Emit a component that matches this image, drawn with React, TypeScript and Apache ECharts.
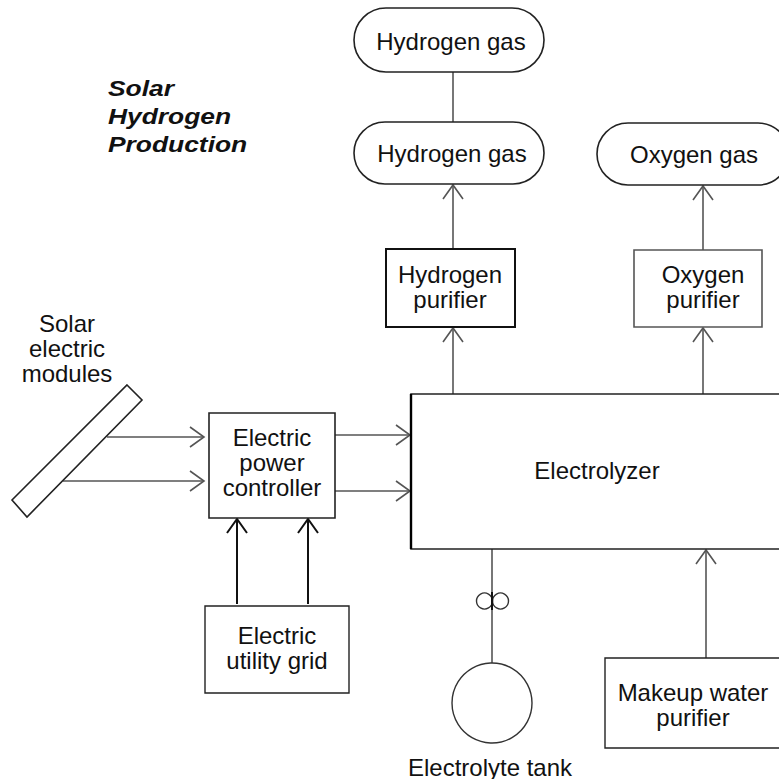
import React, { useEffect, useRef } from "react";
import * as echarts from "echarts";

const titleLines = ["Solar", "Hydrogen", "Production"];
const gasLabels = ["Hydrogen gas", "Hydrogen gas", "Oxygen gas"];
const purifierLabels = ["Hydrogen\npurifier", "Oxygen\npurifier"];
const sourceLabels = ["Solar\nelectric\nmodules", "Electric\npower\ncontroller", "Electric\nutility grid"];
const processLabels = ["Electrolyzer", "Electrolyte tank", "Makeup water\npurifier"];

const FONT = "'Liberation Sans', Arial, Helvetica, sans-serif";
const LINE = "#555";
const BOX = "#222";

function txt(text: string, x: number, y: number, size = 24, extra: any = {}, el: any = {}) {
  return {
    type: "text",
    x,
    y,
    z: 10,
    ...el,
    style: {
      text,
      fontFamily: FONT,
      fontSize: size,
      lineHeight: 25,
      fill: "#111",
      align: "center",
      verticalAlign: "middle",
      textAlign: "center",
      textVerticalAlign: "middle",
      ...extra,
    },
  };
}

function box(x: number, y: number, w: number, h: number, r: number = 0, stroke = BOX, lw = 1.6) {
  return {
    type: "rect",
    shape: { x, y, width: w, height: h, r },
    style: { fill: "#fff", stroke, lineWidth: lw },
  };
}

function seg(x1: number, y1: number, x2: number, y2: number, stroke = LINE, lw = 1.6) {
  return { type: "line", shape: { x1, y1, x2, y2 }, style: { stroke, lineWidth: lw } };
}

function arrow(x1: number, y1: number, x2: number, y2: number, stroke = LINE, lw = 1.6) {
  const dx = x2 - x1;
  const dy = y2 - y1;
  const len = Math.sqrt(dx * dx + dy * dy);
  const ux = dx / len;
  const uy = dy / len;
  const back = 14;
  const side = 10;
  const p1 = [x2 - ux * back - uy * side, y2 - uy * back + ux * side];
  const p2 = [x2 - ux * back + uy * side, y2 - uy * back - ux * side];
  return [
    seg(x1, y1, x2, y2, stroke, lw),
    { type: "polyline", shape: { points: [p1, [x2, y2], p2] }, style: { stroke, lineWidth: lw, fill: null } },
  ];
}

export default function App() {
  const ref = useRef<HTMLDivElement>(null);
  useEffect(() => {
    if (!ref.current) return;
    const chart = echarts.init(ref.current, null, { renderer: "svg" });
    const elements: any[] = [];

    // connectors
    elements.push(seg(453, 72, 453, 122));
    elements.push(...arrow(453, 249, 453, 185));
    elements.push(...arrow(453, 394, 453, 328));
    elements.push(...arrow(703, 250, 703, 186));
    elements.push(...arrow(703, 394, 703, 328));
    elements.push(...arrow(107, 437, 204, 437));
    elements.push(...arrow(63, 481, 204, 481));
    elements.push(...arrow(335, 435, 410, 435));
    elements.push(...arrow(335, 491, 410, 491));
    elements.push(...arrow(237, 604, 237, 519, "#111", 2));
    elements.push(...arrow(308, 604, 308, 519, "#111", 2));
    elements.push(...arrow(706, 658, 706, 550));
    elements.push(seg(492, 549, 492, 663));

    // gases
    elements.push(box(354, 8, 190, 64, 32));
    elements.push(box(354, 122, 190, 62, 31));
    elements.push(box(597, 123, 192, 62, 31));

    // purifiers
    elements.push(box(386, 249, 129, 78, 0, "#111", 2));
    elements.push(box(634, 250, 128, 77, 0, LINE, 1.6));

    // solar panel
    elements.push({
      type: "polygon",
      shape: { points: [[127, 385], [142, 400], [27, 517], [12, 500]] },
      style: { fill: "#fff", stroke: BOX, lineWidth: 1.6 },
    });

    // controller, grid
    elements.push(box(209, 413, 126, 105, 0, BOX, 1.6));
    elements.push(box(205, 606, 144, 87, 0, BOX, 1.4));

    // electrolyzer
    elements.push(box(411, 394, 400, 155, 0, BOX, 1.6));
    elements.push(seg(411, 394, 411, 549, "#000", 2.4));

    // pump symbol
    elements.push({ type: "circle", shape: { cx: 484.5, cy: 601, r: 8 }, style: { fill: null, stroke: "#333", lineWidth: 1.4 } });
    elements.push({ type: "circle", shape: { cx: 500.5, cy: 601, r: 8 }, style: { fill: null, stroke: "#333", lineWidth: 1.4 } });
    elements.push(seg(492, 592, 492, 610, "#111", 2));

    // tank
    elements.push({ type: "circle", shape: { cx: 492, cy: 703, r: 40 }, style: { fill: "#fff", stroke: "#333", lineWidth: 1.4 } });

    // makeup water box
    elements.push(box(605, 658, 200, 90, 0, BOX, 1.4));

    // texts
    elements.push(
      txt(
        titleLines.join("\n"),
        108,
        116,
        22,
        {
          align: "left",
          textAlign: "left",
          fontWeight: "bold",
          fontStyle: "italic",
          lineHeight: 28,
        },
        { scaleX: 1.2, originX: 0, originY: 0 }
      )
    );
    elements.push(txt(gasLabels[0], 451, 41));
    elements.push(txt(gasLabels[1], 452, 153));
    elements.push(txt(gasLabels[2], 694, 154));
    elements.push(txt(purifierLabels[0], 450, 287));
    elements.push(txt(purifierLabels[1], 703, 287));
    elements.push(txt(sourceLabels[0], 67, 348));
    elements.push(txt(sourceLabels[1], 272, 462));
    elements.push(txt(sourceLabels[2], 277, 648));
    elements.push(txt(processLabels[0], 597, 470));
    elements.push(txt(processLabels[1], 490, 767));
    elements.push(txt(processLabels[2], 693, 705));

    chart.setOption({
      animation: false,
      backgroundColor: "#fff",
      graphic: { elements },
    });
    return () => chart.dispose();
  }, []);
  return (
    <div
      ref={ref}
      style={{ position: "fixed", left: 0, top: 0, width: 779, height: 779, background: "#fff" }}
    />
  );
}
